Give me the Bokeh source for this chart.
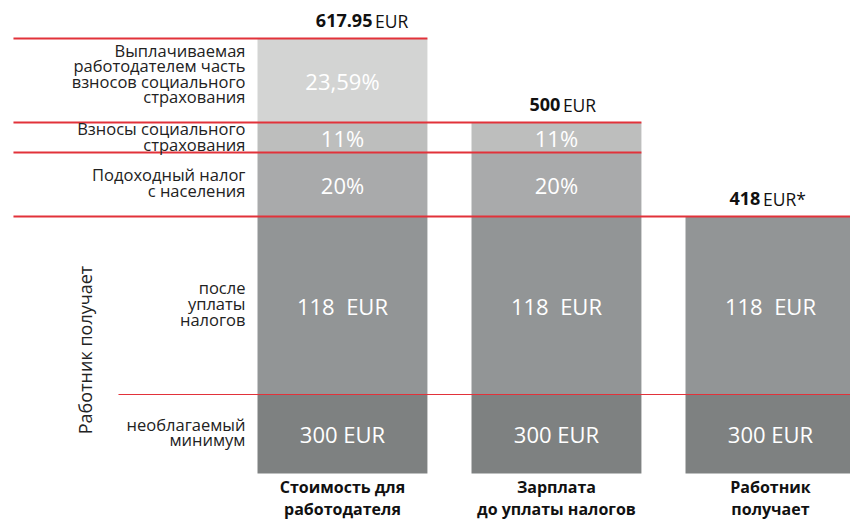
from bokeh.plotting import figure
from bokeh.models import ColumnDataSource, Range1d
from bokeh.core.properties import value
from bokeh.embed import file_html
from bokeh.resources import INLINE

# ---- data ----
categories = ["Стоимость для\nработодателя", "Зарплата\nдо уплаты налогов", "Работник\nполучает"]
totals_num = ["617.95", "500", "418"]
totals_unit = ["EUR", "EUR", "EUR*"]

# visual segment heights (bottom -> top)
seg_names = ["minimum", "after_tax", "income_tax", "social", "employer_social"]
minimum = [79, 79, 79]
after_tax = [178, 178, 178]
income_tax = [64, 64, 0]
social = [30, 30, 0]
employer_social = [84, 0, 0]

seg_labels = ["300 EUR", "118\u00a0\u00a0EUR", "20%", "11%", "23,59%"]
row_labels = ["необлагаемый\nминимум", "после\nуплаты\nналогов",
              "Подоходный налог\nс населения", "Взносы социального\nстрахования",
              "Выплачиваемая\nработодателем часть\nвзносов социального\nстрахования"]
group_label = "Работник получает"
seg_colors = ["#7e8181", "#929596", "#a9aaab", "#bdbebd", "#d3d4d3"]

FONT = "Open Sans"
RED = "#e2323a"

x = list(range(len(categories)))
data = dict(x=x, minimum=minimum, after_tax=after_tax, income_tax=income_tax,
            social=social, employer_social=employer_social)
source = ColumnDataSource(data)

W = 0.794
p = figure(width=850, height=521, output_backend="svg", toolbar_location=None,
           x_range=Range1d(-1.598, 2.374), y_range=Range1d(-48, 473),
           min_border=0, outline_line_color=None)
p.axis.visible = False
p.grid.visible = False
p.background_fill_color = "white"

p.vbar_stack(seg_names, x="x", width=W, color=seg_colors, line_color=None, source=source)

series = [minimum, after_tax, income_tax, social, employer_social]
bottoms = [[0] * len(x)]
for s in series:
    bottoms.append([b + v for b, v in zip(bottoms[-1], s)])

# segment value labels
tx, ty, tt = [], [], []
for k, s in enumerate(series):
    for i, v in enumerate(s):
        if v > 0:
            tx.append(x[i]); ty.append(bottoms[k][i] + v / 2); tt.append(seg_labels[k])
p.text(tx, ty, text=tt, text_color="white", text_font=value(FONT), text_font_size="22px",
       text_align="center", text_baseline="middle")

# red separator lines at each boundary
xend = p.x_range.end
for k in range(1, len(bottoms)):
    yb = bottoms[k][0]
    reach = [i for i in x if bottoms[k][i] >= yb and series[k - 1][i] > 0]
    last = max(reach)
    x1 = xend if last == len(x) - 1 else last + W / 2
    x0 = -1.0467 if k == 1 else -1.5374
    lw = 1.2 if k == 1 else 2
    p.segment(x0, yb, x1, yb, line_color=RED, line_width=lw)

# row labels on left
lx = -0.4533
label_shift = [2, 2, 2, 1, 7]
for k, s in enumerate(series):
    yc = bottoms[k][0] + s[0] / 2
    p.text([lx], [yc + label_shift[k]], text=[row_labels[k]], text_color="#222222",
           text_font=value(FONT), text_font_size="16.5px", text_align="right",
           text_baseline="middle", text_line_height=0.68)

# rotated group label
p.text([-1.2009], [(bottoms[2][0]) / 2 - 5], text=[group_label], angle=1.5708,
       text_color="#222222", text_font=value(FONT), text_font_size="18px",
       text_align="center", text_baseline="middle")

# totals above bars
tops = bottoms[-1]
split_off = [0.14, 0.018, -0.047]
for i in x:
    yt = tops[i] + 18
    p.text([x[i] + split_off[i]], [yt], text=[totals_num[i]], text_color="#111111",
           text_font=value(FONT), text_font_style="bold", text_font_size="18px",
           text_align="right", text_baseline="middle")
    p.text([x[i] + split_off[i] + 0.012], [yt], text=[totals_unit[i]], text_color="#111111",
           text_font=value(FONT), text_font_size="17.5px",
           text_align="left", text_baseline="middle")

# category labels below
p.text(x, [-24] * len(x), text=categories, text_color="#111111", text_font=value(FONT),
       text_font_style="bold", text_font_size="16px", text_align="center",
       text_baseline="middle", text_line_height=1.0)

open("out.html", "w").write(file_html(p, INLINE))
